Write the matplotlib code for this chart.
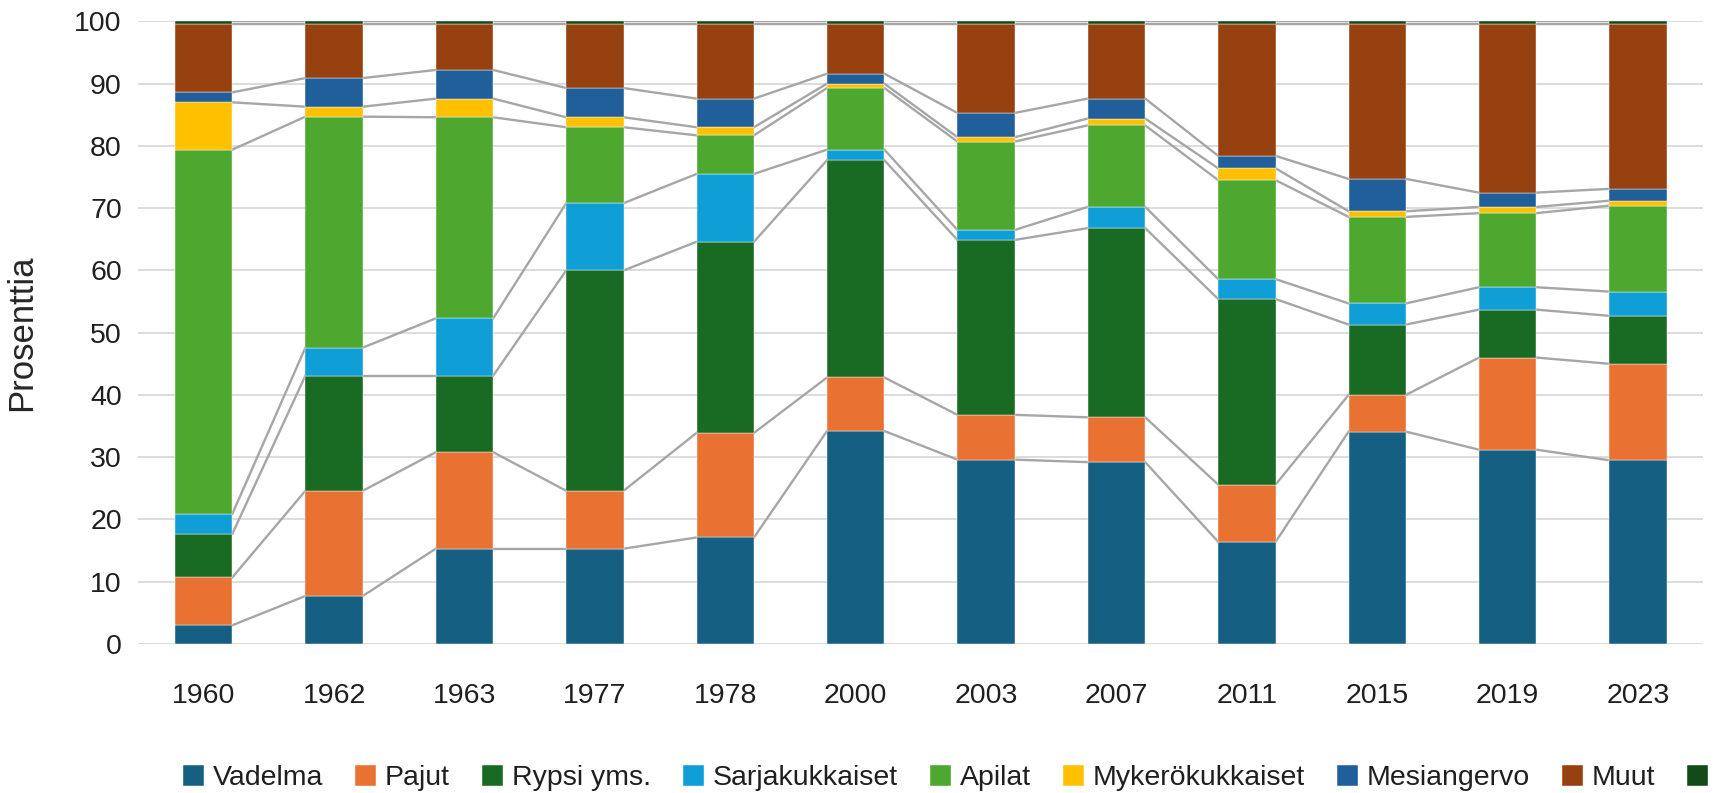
import numpy as np
import matplotlib
from matplotlib import pyplot as plt

matplotlib.use("agg")

years = ["1960", "1962", "1963", "1977", "1978", "2000", "2003", "2007", "2011", "2015", "2019", "2023"]

vadelma = [3.0, 7.7, 15.3, 15.3, 17.1, 34.2, 29.6, 29.2, 16.4, 34.1, 31.2, 29.5]
pajut = [7.7, 16.9, 15.5, 9.3, 16.8, 8.6, 7.2, 7.2, 9.2, 5.9, 14.8, 15.5]
rypsi = [7.0, 18.5, 12.3, 35.4, 30.7, 34.9, 28.1, 30.4, 29.8, 11.3, 7.7, 7.7]
sarjakukkaiset = [3.2, 4.5, 9.2, 10.8, 10.9, 1.7, 1.6, 3.4, 3.2, 3.4, 3.6, 3.9]
apilat = [58.5, 37.1, 32.3, 12.2, 6.2, 9.9, 14.2, 13.1, 15.9, 13.9, 11.9, 13.8]
mykerokukkaiset = [7.6, 1.6, 3.0, 1.6, 1.3, 0.7, 0.7, 1.1, 1.9, 0.9, 1.0, 0.8]
mesiangervo = [1.6, 4.6, 4.6, 4.7, 4.6, 1.6, 3.9, 3.2, 2.0, 5.2, 2.3, 1.9]
muut = [11.0, 8.7, 7.4, 10.3, 12.0, 8.0, 14.3, 12.0, 21.2, 24.9, 27.1, 26.5]
tuntematon = [0.4] * 12

series = [
    ("Vadelma", vadelma, "#156082"),
    ("Pajut", pajut, "#e97132"),
    ("Rypsi yms.", rypsi, "#196b24"),
    ("Sarjakukkaiset", sarjakukkaiset, "#0f9ed5"),
    ("Apilat", apilat, "#4ea72e"),
    ("Mykerökukkaiset", mykerokukkaiset, "#ffc000"),
    ("Mesiangervo", mesiangervo, "#215f9a"),
    ("Muut", muut, "#974010"),
    (" ", tuntematon, "#124a18"),
]

plt.rcParams["font.family"] = ["Liberation Sans", "DejaVu Sans"]

fig = plt.figure(figsize=(17.31, 7.93), dpi=100)
ax = fig.add_axes([0.080, 0.188, 0.904, 0.785])

x = np.arange(len(years))
width = 0.44
bottom = np.zeros(len(years))
handles = []
for name, vals, color in series:
    vals = np.array(vals)
    b = ax.bar(x, vals, width, bottom=bottom, color=color, label=name, zorder=3,
               edgecolor="white", linewidth=0.3)
    handles.append(b)
    top = bottom + vals
    # series lines between adjacent bars
    for i in range(len(years) - 1):
        ax.plot([x[i] + width / 2, x[i + 1] - width / 2], [top[i], top[i + 1]],
                color="#a6a6a6", linewidth=1.7, zorder=2)
    bottom = top

ax.set_xlim(-0.5, len(years) - 0.5)
ax.set_ylim(0, 100)
ax.set_yticks(range(0, 101, 10))
ax.set_xticks(x)
ax.set_xticklabels(years)
ax.tick_params(axis="both", length=0, labelsize=20.5, colors="#1f1f1f")
ax.tick_params(axis="x", pad=28)
ax.tick_params(axis="y", pad=12)
ax.yaxis.grid(True, color="#d9d9d9", linewidth=1.3, zorder=0)
ax.set_axisbelow(True)
for s in ax.spines.values():
    s.set_visible(False)
ax.axhline(0, color="#d9d9d9", linewidth=1.3, zorder=1)

ax.set_ylabel("Prosenttia", fontsize=25, color="#262626")
ax.yaxis.set_label_coords(-0.064, 0.5)

fig.legend(handles=handles, labels=[s[0] for s in series], loc="center",
           bbox_to_anchor=(0.551, 0.019), ncol=9, frameon=False, fontsize=20.5,
           handlelength=0.75, handleheight=0.75, handletextpad=0.3, columnspacing=1.12,
           labelcolor="#1f1f1f")

plt.savefig("out.png", dpi=100)
